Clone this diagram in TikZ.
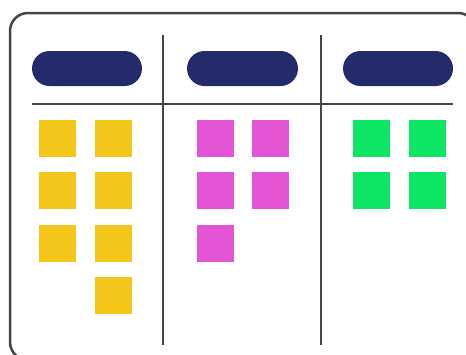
\documentclass[tikz,border=0pt]{standalone}
\definecolor{navy}{HTML}{232B6B}
\definecolor{stickyY}{HTML}{F2C618}
\definecolor{stickyP}{HTML}{E455D6}
\definecolor{stickyG}{HTML}{0DE665}
\definecolor{frameC}{HTML}{454545}
\begin{document}
\begin{tikzpicture}[x=1pt,y=-1pt,
  pill/.style={fill=navy,rounded corners=17.5pt},
  sticky/.style={minimum size=37pt,inner sep=0pt,draw=none},
  ruleline/.style={draw=frameC,line width=2.5pt}]
\useasboundingbox (0,0) rectangle (466,354);
\clip (0,0) rectangle (466,354);
\draw[ruleline,rounded corners=18pt] (10,13) rectangle (476,360);
% dividers
\coordinate (d1t) at (163,35); \coordinate (d1b) at (163,345);
\coordinate (d2t) at (321,35); \coordinate (d2b) at (321,345);
\coordinate (hl) at (32,104); \coordinate (hr) at (453,104);
\draw[ruleline] (d1t) -- (d1b);
\draw[ruleline] (d2t) -- (d2b);
\draw[ruleline] (hl) -- (hr);
% header pills
\fill[pill] (32,51) rectangle (142,86);
\fill[pill] (187,51) rectangle (298,86);
\fill[pill] (343,51) rectangle (453,86);
% yellow
\foreach \cx/\cy [count=\i] in {57.5/138, 113/138, 57.5/190.5, 113/190.5, 57.5/243, 113/243, 113/295.5}
  \node[sticky,fill=stickyY] (y\i) at (\cx,\cy) {};
% pink
\foreach \cx/\cy [count=\i] in {215/138, 270/138, 215/190.5, 270/190.5, 215/243}
  \node[sticky,fill=stickyP] (p\i) at (\cx,\cy) {};
% green
\foreach \cx/\cy [count=\i] in {371.5/138, 427/138, 371.5/190.5, 427/190.5}
  \node[sticky,fill=stickyG] (g\i) at (\cx,\cy) {};
\end{tikzpicture}
\end{document}
